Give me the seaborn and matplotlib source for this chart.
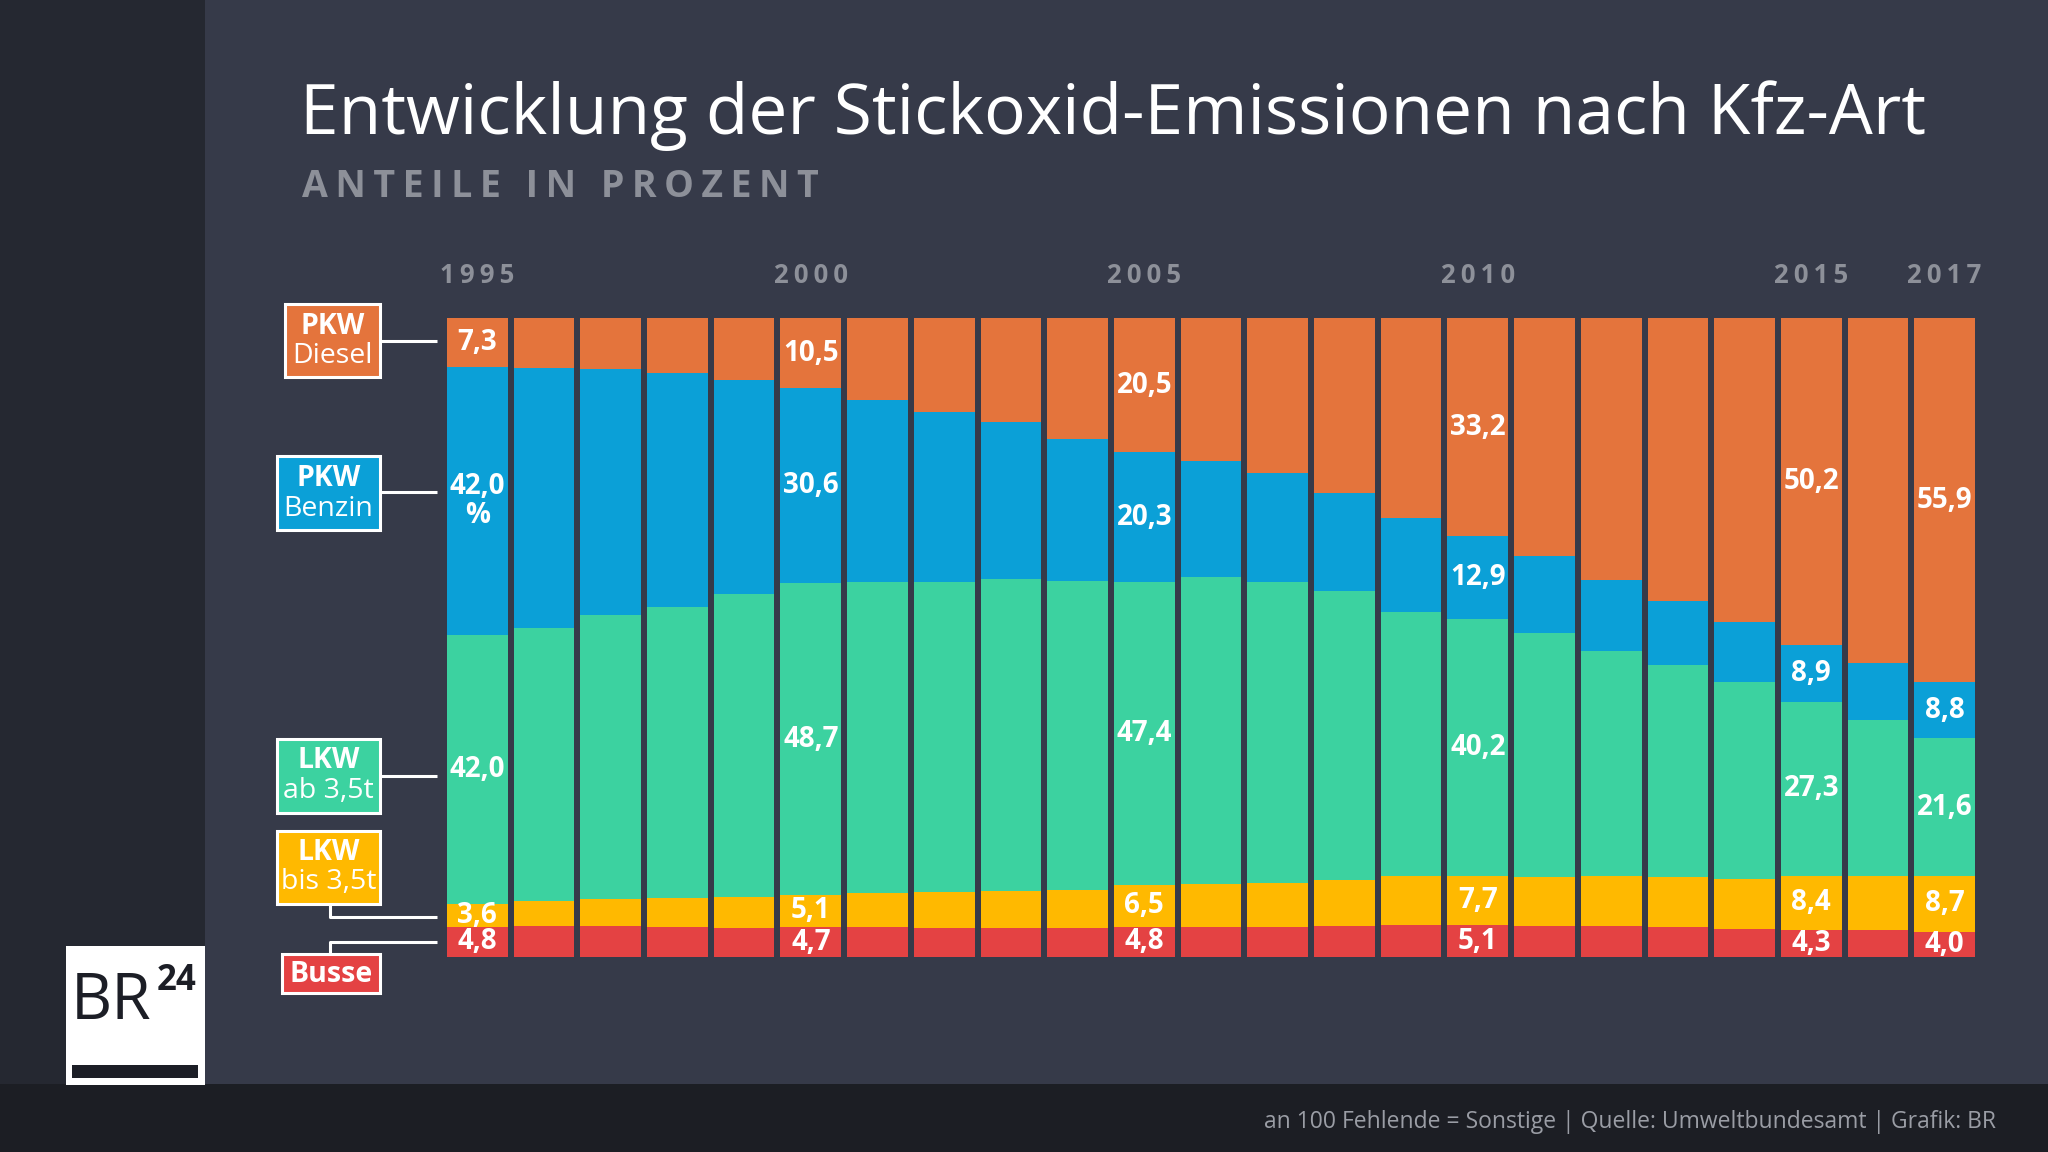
import matplotlib
matplotlib.use("Agg")
import matplotlib.pyplot as plt
import seaborn as sns
import pandas as pd
import numpy as np
from matplotlib.patches import Rectangle
from matplotlib.lines import Line2D

# ---------------- data ----------------
years = [str(y) for y in range(1995, 2018)]
busse = [4.8, 4.9, 4.9, 4.8, 4.6, 4.7, 4.7, 4.6, 4.6, 4.6, 4.8, 4.7, 4.7, 4.9, 5.1, 5.1, 4.9, 4.9, 4.8, 4.4, 4.3, 4.2, 4.0]
lkw_bis = [3.6, 3.9, 4.2, 4.5, 4.8, 5.1, 5.3, 5.6, 5.8, 5.9, 6.5, 6.8, 7.0, 7.2, 7.7, 7.7, 7.6, 7.8, 7.7, 7.9, 8.4, 8.6, 8.7]
lkw_ab = [42.0, 42.8, 44.4, 45.5, 47.5, 48.7, 48.8, 48.6, 48.8, 48.4, 47.4, 48.0, 47.1, 45.3, 41.3, 40.2, 38.3, 35.3, 33.2, 30.8, 27.3, 24.4, 21.6]
pkw_benzin = [42.0, 40.7, 38.6, 36.7, 33.5, 30.6, 28.4, 26.6, 24.6, 22.2, 20.3, 18.2, 17.0, 15.2, 14.6, 12.9, 12.0, 11.0, 10.0, 9.3, 8.9, 8.9, 8.8]
pkw_diesel = [7.3, 7.5, 7.7, 8.2, 9.3, 10.5, 12.6, 14.4, 15.8, 18.5, 20.5, 21.9, 23.8, 26.8, 30.9, 33.2, 36.6, 40.3, 43.6, 46.9, 50.2, 53.3, 55.9]
year_ticks = ["1995", "2000", "2005", "2010", "2015", "2017"]
labelled_years = ["1995", "2000", "2005", "2010", "2015", "2017"]

title = "Entwicklung der Stickoxid-Emissionen nach Kfz-Art"
subtitle = "ANTEILE IN PROZENT"
footer = "an 100 Fehlende = Sonstige | Quelle: Umweltbundesamt | Grafik: BR"

# ---------------- style ----------------
C_DIESEL = "#e4743c"
C_BENZIN = "#0ba0d7"
C_LKW_AB = "#3cd2a0"
C_LKW_BIS = "#ffb900"
C_BUSSE = "#e44243"
BG = "#363a49"
GREY = "#8d9099"

sns.set_theme(style="white")
plt.rcParams["font.family"] = ["Open Sans", "DejaVu Sans"]

W, H = 2048, 1152
fig = plt.figure(figsize=(W / 100, H / 100), dpi=100)
fig.patch.set_facecolor(BG)

# overlay axes in pixel coordinates (y downwards)
bg = fig.add_axes([0, 0, 1, 1], zorder=0)
bg.set_xlim(0, W)
bg.set_ylim(H, 0)
bg.axis("off")
bg.add_patch(Rectangle((0, 0), 205, H, color="#252831", lw=0))
bg.add_patch(Rectangle((0, 1084), W, H - 1084, color="#1c1e24", lw=0))

# ---------------- chart ----------------
df = pd.DataFrame({
    "Jahr": years,
    "Busse": busse,
    "LKW bis 3,5t": lkw_bis,
    "LKW ab 3,5t": lkw_ab,
    "PKW Benzin": pkw_benzin,
    "PKW Diesel": pkw_diesel,
})
df["Sonstige"] = 100 - df[["Busse", "LKW bis 3,5t", "LKW ab 3,5t", "PKW Benzin", "PKW Diesel"]].sum(axis=1)

ax = fig.add_axes([447 / W, (H - 957.3) / H, 1528 / W, 639 / H], zorder=1)
ax.set_facecolor("none")

segments = [
    ("Busse", C_BUSSE),
    ("LKW bis 3,5t", C_LKW_BIS),
    ("LKW ab 3,5t", C_LKW_AB),
    ("PKW Benzin", C_BENZIN),
    ("PKW Diesel", C_DIESEL),
    ("Sonstige", C_DIESEL),
]
cum = np.zeros(len(df))
bottoms = {}
for col, colr in segments:
    bottoms[col] = cum.copy()
    sns.barplot(data=df, x="Jahr", y=col, color=colr, saturation=1, width=0.91,
                errorbar=None, bottom=cum.copy(), linewidth=0, ax=ax)
    cum = cum + df[col].to_numpy()

ax.set_xlim(-0.455, len(df) - 1 + 0.455)
ax.set_ylim(0, 100)
ax.axis("off")


def fmt(v):
    return f"{v:.1f}".replace(".", ",")


for yr in labelled_years:
    i = years.index(yr)
    for col in ["Busse", "LKW bis 3,5t", "LKW ab 3,5t", "PKW Benzin"]:
        b = bottoms[col][i]
        v = df[col].iloc[i]
        txt = fmt(v)
        if yr == "1995" and col == "PKW Benzin":
            txt = txt + "\n%"
        ax.text(i, b + v / 2, txt, ha="center", va="center", color="white",
                fontsize=20, fontweight="bold", linespacing=1.0)
    b = bottoms["PKW Diesel"][i]
    ax.text(i, (b + 100) / 2, fmt(df["PKW Diesel"].iloc[i]), ha="center", va="center",
            color="white", fontsize=20, fontweight="bold")

# year labels above bars
for yr in year_ticks:
    i = years.index(yr)
    xd = ax.transData.transform((i, 0))[0]
    bg.text(xd, 283, "\u2009".join(yr), ha="center", va="baseline", color=GREY,
            fontsize=18.5, fontweight="bold")

# ---------------- titles ----------------
bg.text(300, 134, title, ha="left", va="baseline", color="white", fontsize=50)
bg.text(302, 197.3, "\u2009".join(subtitle), ha="left", va="baseline", color=GREY,
        fontsize=27, fontweight="bold")
bg.text(1996, 1128, footer, ha="right", va="baseline", color="#9a9da5", fontsize=16.5)

# ---------------- legend boxes ----------------
def box(x0, y0, x1, y1, color, lines):
    bg.add_patch(Rectangle((x0, y0), x1 - x0, y1 - y0, facecolor=color,
                           edgecolor="white", lw=2.2, zorder=3))
    for (txt, yc, bold) in lines:
        bg.text((x0 + x1) / 2, yc, txt, ha="center", va="center", color="white",
                fontsize=20.5, fontweight="bold" if bold else "normal", zorder=4)


def conn(xs, ys):
    bg.add_line(Line2D(xs, ys, color="white", lw=2.2, zorder=2, solid_capstyle="butt"))


box(285, 304, 380, 377, C_DIESEL, [("PKW", 326, True), ("Diesel", 356, False)])
conn([380, 437], [341, 341])
box(277, 456, 380, 530, C_BENZIN, [("PKW", 478, True), ("Benzin", 509, False)])
conn([380, 437], [492, 492])
box(277, 739, 380, 813, C_LKW_AB, [("LKW", 761, True), ("ab 3,5t", 791, False)])
conn([380, 437], [776, 776])
box(277, 831, 380, 904, C_LKW_BIS, [("LKW", 852, True), ("bis 3,5t", 882, False)])
conn([330, 330, 437], [904, 917, 917])
box(282, 954, 380, 993, C_BUSSE, [("Busse", 974, True)])
conn([330, 330, 437], [954, 942, 942])

# ---------------- logo ----------------
bg.add_patch(Rectangle((66, 946), 139, 139, color="white", lw=0, zorder=3))
bg.add_patch(Rectangle((72, 1065), 126, 12.5, color="#1c1e26", lw=0, zorder=4))
bg.text(71, 1019, "BR", ha="left", va="baseline", color="#1c1e26", fontsize=46, zorder=4)
bg.text(157, 990, "24", ha="left", va="baseline", color="#1c1e26", fontsize=25,
        fontweight="bold", zorder=4)

fig.savefig("out.png", dpi=100, facecolor=fig.get_facecolor())
